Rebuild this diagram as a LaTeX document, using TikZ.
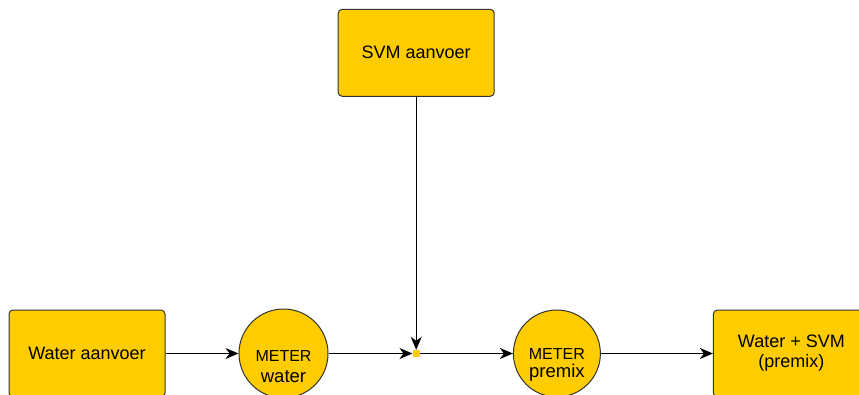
\documentclass[tikz,border=0pt]{standalone}
\usepackage{fontspec}
\setmainfont{Liberation Sans}
\usetikzlibrary{shapes.geometric, arrows.meta, positioning}
\definecolor{meteryellow}{HTML}{FFCC00}
\tikzstyle{supply} = [rectangle, rounded corners=4pt, minimum width=156pt, minimum height=87pt, align=center, draw=black!80, line width=1pt, fill=meteryellow, font=\fontsize{18}{20}\selectfont]
\tikzstyle{meter} = [circle, minimum size=88pt, inner sep=0pt, draw=black!80, line width=1pt, fill=meteryellow]
\tikzstyle{metertext} = [align=center, font=\fontsize{16}{21}\selectfont]
\tikzstyle{junction} = [rectangle, minimum size=7pt, inner sep=0pt, fill=meteryellow]
\tikzstyle{arrow} = [line width=1.3pt, -{Stealth[length=13pt, width=11pt, inset=4pt]}]

\begin{document}
\begin{tikzpicture}[x=1pt, y=1pt]
\useasboundingbox (0,0) rectangle (859,394);
% Bottom row
\node (watersupply) [supply] at (87,40.5) {Water aanvoer};
\node (watermeter) [meter, minimum size=89pt, right=73pt of watersupply, label={[metertext, yshift=-13pt]center:METER\\{\fontsize{18.5}{21}\selectfont water}}] {};
\node (junction) [junction, right=84pt of watermeter] {};
\node (premixmeter) [meter, minimum size=87pt, right=93pt of junction, label={[metertext, yshift=-11pt]center:METER\\[-3pt]{\fontsize{18.5}{21}\selectfont premix}}] {};
\node (mixture) [supply, right=112pt of premixmeter] {Water + SVM\\(premix)};
% Top
\node (svmsupply) [supply, above=253pt of junction] {SVM aanvoer};

% Arrows
\draw [arrow] (watersupply) -- (watermeter);
\draw [arrow] (watermeter) -- (junction);
\draw [arrow] (svmsupply) -- (junction);
\draw [arrow] (junction) -- (premixmeter);
\draw [arrow] (premixmeter) -- (mixture);
\end{tikzpicture}
\end{document}
